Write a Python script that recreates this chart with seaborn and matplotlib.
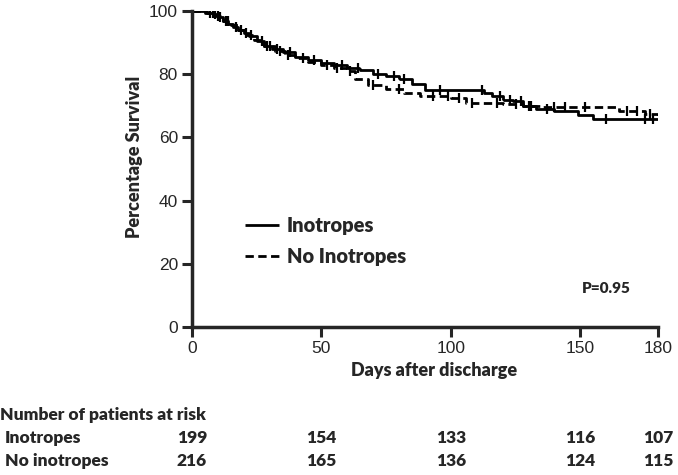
import matplotlib
matplotlib.use("Agg")
import matplotlib.pyplot as plt
import matplotlib.transforms as mtransforms
import seaborn as sns
import numpy as np
import pandas as pd

# Kaplan-Meier steps (days, % survival)
ino_days = [0, 5, 8, 10, 12, 14, 16, 18, 20, 22, 25, 28, 31, 35, 40, 45, 50, 55, 60,
            65, 70, 75, 80, 85, 90, 113, 116, 120, 124, 128, 133, 140, 149, 155, 180]
ino_surv = [100, 99.5, 99, 98, 97, 96, 95, 94, 93, 92, 90.5, 89, 88, 87, 85.5, 84.5, 83.5, 83, 82,
            81.5, 80, 79.5, 78.5, 77, 75, 74, 73, 72, 71.5, 70, 69, 68.5, 67, 66, 66]
ino_censor = [7, 9, 11, 13, 17, 21, 27, 30, 33, 38, 47, 58, 64, 72, 78, 82, 96, 112, 119,
              123, 127, 131, 137, 160, 175, 178]

no_days = [0, 6, 9, 12, 15, 18, 21, 24, 28, 32, 36, 40, 45, 50, 55, 60, 63, 68, 75, 82,
           88, 100, 106, 120, 128, 135, 165, 175, 180]
no_surv = [100, 99.5, 98.5, 97, 95.5, 94, 92.5, 91, 89, 87.5, 86, 85, 84, 83, 82, 81, 78.5, 76.5, 75.5, 74,
           73, 72.5, 71, 70.5, 70, 69.5, 68.5, 67.5, 67]
no_censor = [8, 10, 14, 19, 23, 29, 34, 37, 43, 52, 56, 61, 70, 80, 93, 99, 103, 108, 118,
             125, 130, 140, 144, 152, 168, 172, 177]

risk_days = [0, 50, 100, 150, 180]
risk_ino = [199, 154, 133, 116, 107]
risk_no = [216, 165, 136, 124, 115]

sns.set_style("ticks")
plt.rcParams["font.family"] = ["Liberation Sans", "DejaVu Sans"]
lab_font = ["Lato", "DejaVu Sans"]

fig = plt.figure(figsize=(6.78, 4.75), dpi=100)
ax = fig.add_axes([0.283, 0.3116, 0.6875, 0.665])


def surv_at(days, surv, t):
    idx = np.searchsorted(days, t, side="right") - 1
    return np.array(surv)[idx]


df = pd.concat([
    pd.DataFrame({"day": ino_days, "surv": ino_surv, "group": "Inotropes"}),
    pd.DataFrame({"day": no_days, "surv": no_surv, "group": "No Inotropes"}),
])
sns.lineplot(data=df, x="day", y="surv", hue="group", style="group",
             palette=["black", "black"], dashes=[(1, 0), (3, 1.6)],
             drawstyle="steps-post", linewidth=2, ax=ax, legend=True)

cens = pd.concat([
    pd.DataFrame({"day": ino_censor, "surv": surv_at(ino_days, ino_surv, ino_censor)}),
    pd.DataFrame({"day": no_censor, "surv": surv_at(no_days, no_surv, no_censor)}),
])
sns.scatterplot(data=cens, x="day", y="surv", marker="|", s=45, color="black",
                linewidth=1.6, ax=ax, legend=False)

ax.set_xlim(0, 180)
ax.set_ylim(0, 100)
ax.set_xticks([0, 50, 100, 150, 180])
ax.set_yticks([0, 20, 40, 60, 80, 100])
ax.tick_params(labelsize=12.5, width=2.2, length=7, pad=3)
for s in ["left", "bottom"]:
    ax.spines[s].set_linewidth(2.5)
sns.despine(ax=ax)

ax.set_xlabel("Days after discharge", fontsize=13, fontweight="heavy", family=lab_font)
ax.xaxis.set_label_coords(0.52, -0.11)
ax.set_ylabel("Percentage Survival", fontsize=13, fontweight="heavy", family=lab_font)
ax.yaxis.set_label_coords(-0.105, 0.54)

handles, labels = ax.get_legend_handles_labels()
leg = ax.legend(handles, labels, loc="center left", bbox_to_anchor=(0.115, 0.272), frameon=False,
                prop={"family": lab_font, "weight": "heavy", "size": 14.5}, handlelength=1.65,
                handletextpad=0.4, labelspacing=0.6, borderaxespad=0, borderpad=0)
for h in leg.get_lines():
    h.set_linewidth(2)

ax.text(0.89, 0.123, "P=0.95", transform=ax.transAxes, ha="center", va="center",
        fontsize=11, fontweight="heavy", family=lab_font)

fig.text(0.0, 1 - 415 / 475, "Number of patients at risk", ha="left", va="center",
         fontsize=12.5, fontweight="heavy", family=lab_font)
fig.text(0.007, 1 - 438 / 475, "Inotropes", ha="left", va="center",
         fontsize=12.5, fontweight="heavy", family=lab_font)
fig.text(0.007, 1 - 461 / 475, "No inotropes", ha="left", va="center",
         fontsize=12.5, fontweight="heavy", family=lab_font)
trans = mtransforms.blended_transform_factory(ax.transData, fig.transFigure)
for d, a, b in zip(risk_days, risk_ino, risk_no):
    ax.text(d, 1 - 438 / 475, str(a), transform=trans, ha="center", va="center",
            fontsize=12.5, fontweight="heavy", family=lab_font)
    ax.text(d, 1 - 461 / 475, str(b), transform=trans, ha="center", va="center",
            fontsize=12.5, fontweight="heavy", family=lab_font)

fig.savefig("out.png", dpi=100)
